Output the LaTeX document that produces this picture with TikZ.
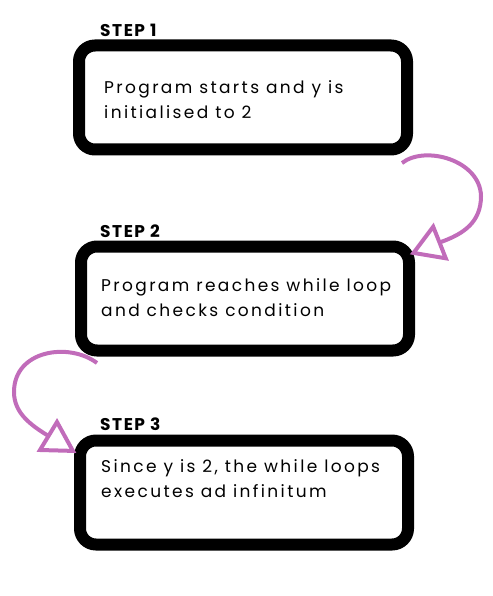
\documentclass[tikz,border=0pt]{standalone}
\usepackage{fontspec}
\setmainfont{Poppins}
\newfontfamily\bodyfont[LetterSpace=14]{Poppins}
\newfontfamily\stepfont[LetterSpace=9]{Poppins}
\definecolor{orchidline}{HTML}{C16CBA}
\begin{document}
\begin{tikzpicture}[x=1pt,y=-1pt,
  stepbox/.style={draw=black, line width=12pt, rounded corners=16pt, minimum width=328pt, minimum height=104pt, inner sep=0pt},
  steplabel/.style={anchor=west, font=\stepfont\bfseries\fontsize{17}{17}\selectfont, inner sep=0pt},
  bodytext/.style={anchor=west, font=\bodyfont\fontsize{17}{25}\selectfont, inner sep=0pt, align=left},
  loopline/.style={draw=orchidline, line width=4pt},
  loophead/.style={draw=orchidline, line width=4pt, line join=miter}
]
\useasboundingbox (0,0) rectangle (492,596);
% boxes
\node[stepbox] (b1) at (243,97.5) {};
\node[stepbox] (b2) at (245,298.5) {};
\node[stepbox] (b3) at (244,492.5) {};
% labels
\node[steplabel] (l1) at (100,30) {STEP 1};
\node[steplabel] (l2) at (100,231) {STEP 2};
\node[steplabel] (l3) at (100,424) {STEP 3};
% texts
\node[bodytext] (t1) at (104,99.5) {Program starts and y is\\initialised to 2};
\node[bodytext] (t2) at (101,298) {Program reaches while loop\\and checks condition};
\node[bodytext] (t3) at (101,479) {Since y is 2, the while loops\\executes ad infinitum};
% arrow 1
\coordinate (a1s) at (402,163);
\coordinate (a1r) at (481,196);
\coordinate (a1e) at (439.5,242.5);
\coordinate (a1p) at (433.2,226.7);
\coordinate (a1q) at (445.8,258.3);
\coordinate (a1tip) at (413.5,252.9);
\draw[loopline] (a1s) .. controls (425,145) and (480,160) .. (a1r) .. controls (481,222) and (464,234) .. (a1e);
\draw[loophead] (a1p) -- (a1tip) -- (a1q) -- cycle;
% arrow 2
\coordinate (a2s) at (97,363);
\coordinate (a2l) at (14,392);
\coordinate (a2e) at (48.5,436);
\coordinate (a2p) at (57,422);
\coordinate (a2q) at (40,450);
\coordinate (a2tip) at (72.9,450.9);
\draw[loopline] (a2s) .. controls (69,342) and (14,350) .. (a2l) .. controls (14,413) and (30.6,425) .. (a2e);
\draw[loophead] (a2p) -- (a2tip) -- (a2q) -- cycle;
\end{tikzpicture}
\end{document}
